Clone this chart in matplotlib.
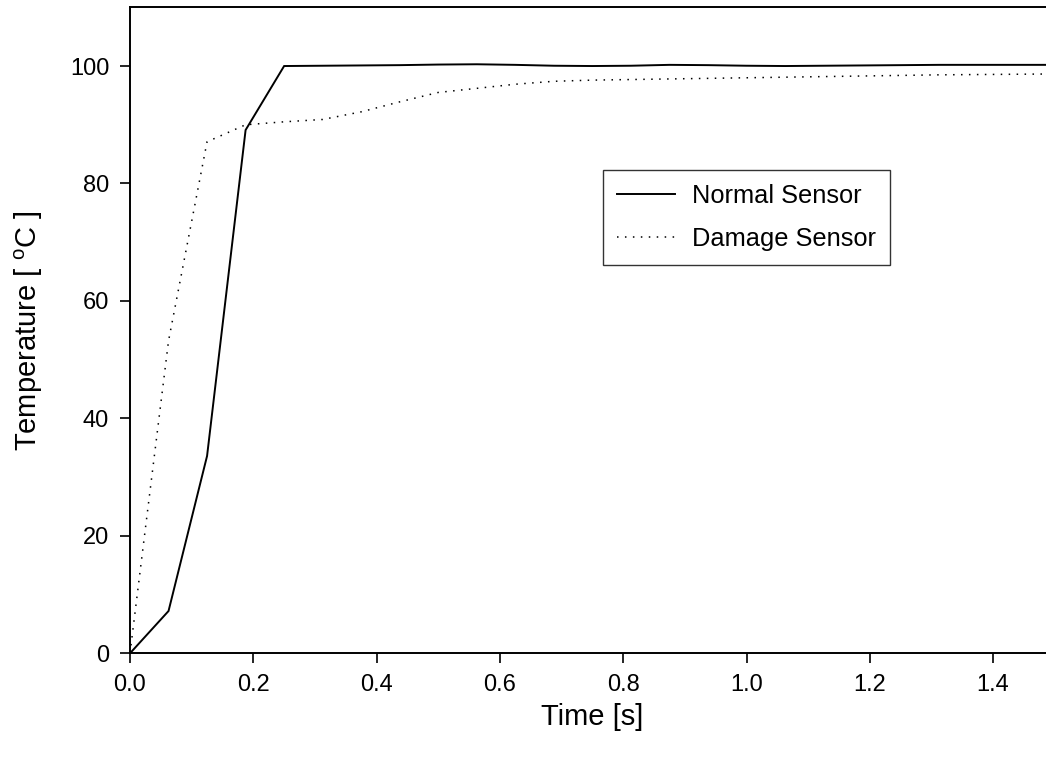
import matplotlib
matplotlib.use("Agg")
import matplotlib.pyplot as plt

plt.rcParams['font.family'] = ['Liberation Sans', 'DejaVu Sans']
plt.rcParams['mathtext.fontset'] = 'custom'
plt.rcParams['mathtext.rm'] = 'Liberation Sans'

time_s = [0.0, 0.0625, 0.125, 0.1875, 0.25, 0.3125, 0.375, 0.4375, 0.5, 0.5625,
          0.625, 0.6875, 0.75, 0.8125, 0.875, 0.9375, 1.0, 1.0625, 1.125, 1.1875,
          1.25, 1.3125, 1.375, 1.4375, 1.5]
normal_sensor = [0.0, 7.2, 33.6, 89.1, 100.0, 100.05, 100.1, 100.15, 100.25, 100.3,
                 100.2, 100.05, 100.0, 100.05, 100.2, 100.15, 100.05, 100.0, 100.05, 100.1,
                 100.15, 100.2, 100.2, 100.2, 100.2]
damage_sensor = [0.0, 53.2, 87.1, 90.0, 90.5, 90.9, 92.2, 93.9, 95.5, 96.2,
                 96.9, 97.4, 97.6, 97.7, 97.8, 97.9, 98.0, 98.1, 98.2, 98.3,
                 98.4, 98.5, 98.55, 98.6, 98.65]
labels = ['Normal Sensor', 'Damage Sensor']
x_ticks = [0.0, 0.2, 0.4, 0.6, 0.8, 1.0, 1.2, 1.4]
y_ticks = [0, 20, 40, 60, 80, 100]

W, H = 1046, 766
fig = plt.figure(figsize=(W / 100, H / 100), dpi=100)
left = 130 / W
bottom = (H - 653.3) / H
top = (H - 7.3) / H
xmax = 1.5
right_px = 130 + xmax * 616.5
ax = fig.add_axes([left, bottom, (right_px - 130) / W, top - bottom])

ax.plot(time_s, normal_sensor, color='black', lw=1.4, solid_joinstyle='miter', label=labels[0])
ax.plot(time_s, damage_sensor, color='black', lw=1.1, linestyle=(0, (1, 4.2)), label=labels[1])

ax.set_xlim(0, xmax)
ax.set_ylim(0, 110)
ax.set_xticks(x_ticks)
ax.set_xticklabels([f'{v:.1f}' for v in x_ticks])
ax.set_yticks(y_ticks)
for s in ax.spines.values():
    s.set_linewidth(1.4)
ax.tick_params(direction='out', length=7, width=1.2, labelsize=17, pad=8)

ax.set_xlabel('Time [s]', fontsize=21, labelpad=5)
ax.set_ylabel(r'Temperature [ $^{\mathrm{o}}$C ]', fontsize=21, labelpad=18)

leg = ax.legend(loc='upper left', bbox_to_anchor=(603 / W, 1 - 170 / H),
                bbox_transform=fig.transFigure, borderaxespad=0, fontsize=18.3,
                frameon=True, fancybox=False, handlelength=2.3, handletextpad=0.65,
                labelspacing=0.75, borderpad=0.55)
leg.get_frame().set_edgecolor('black')
leg.get_frame().set_linewidth(1.0)

fig.savefig('out.png', dpi=100)
